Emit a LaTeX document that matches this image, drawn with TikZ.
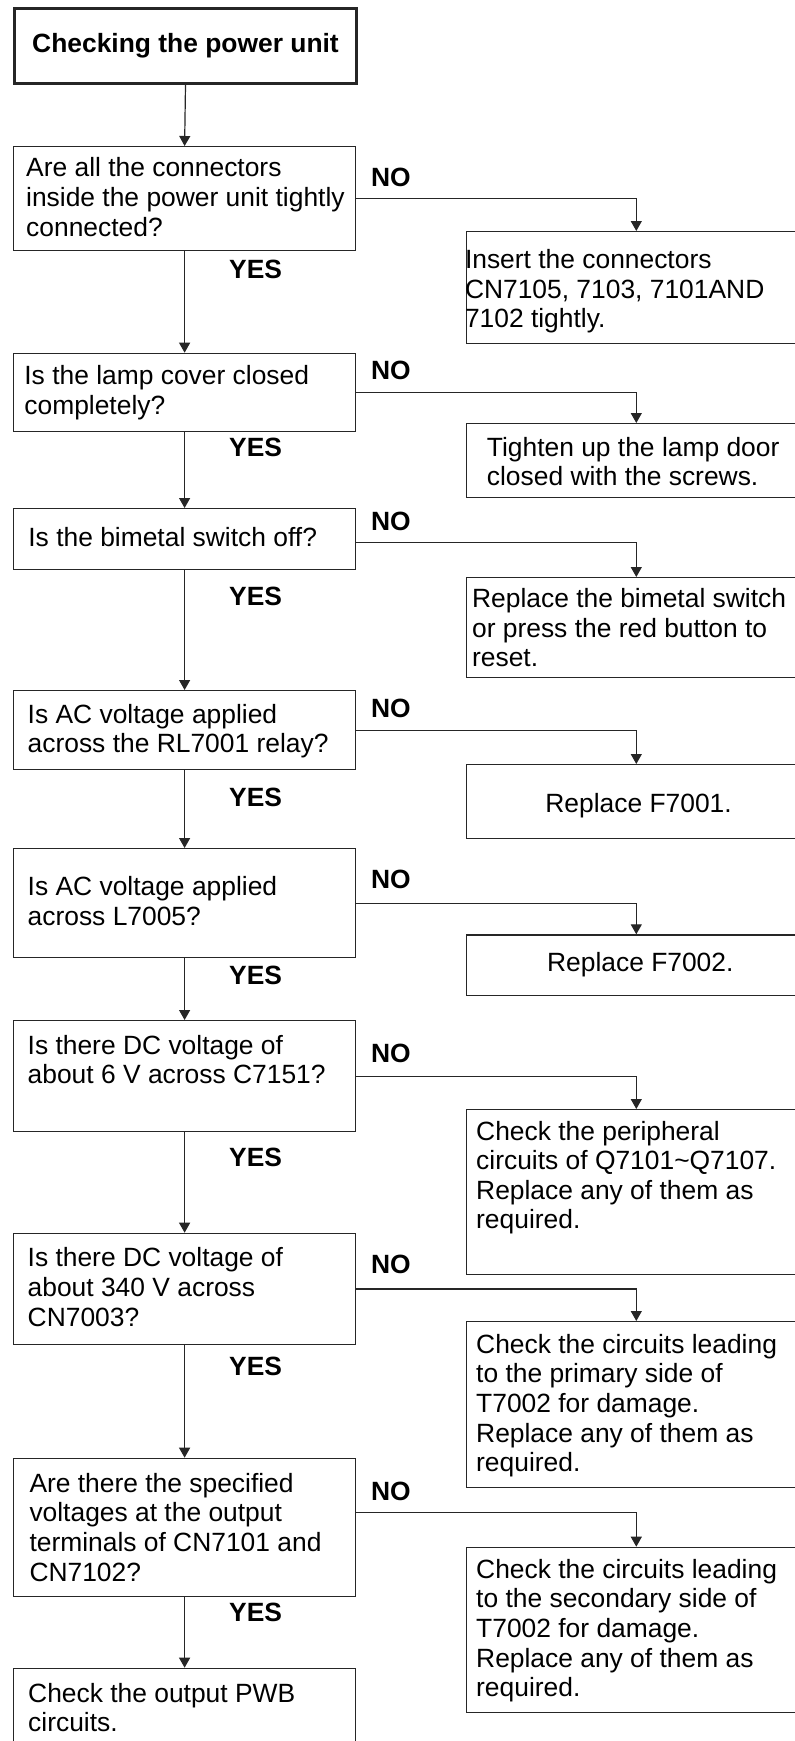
\documentclass[tikz,border=0pt]{standalone}
\usepackage{fontspec}
\setmainfont{Liberation Sans}
\usetikzlibrary{arrows.meta}
\tikzset{
  box/.style={draw=black!85, line width=1.2pt, inner sep=0pt, anchor=north west, minimum width=342pt},
  rbox/.style={box, minimum width=340pt},
  txt/.style={anchor=north west, inner sep=0pt, align=left, font=\fontsize{26.4}{29.6}\selectfont},
  lbl/.style={anchor=west, inner sep=0pt, font=\fontsize{26.4}{29.6}\selectfont\bfseries},
  arr/.style={draw=black!85, line width=1.2pt, -{Triangle[length=10pt,width=11pt]}},
}
\begin{document}
\begin{tikzpicture}[x=1pt,y=-1pt]
\useasboundingbox (0,0) rectangle (795,1741);
\clip (0,0) rectangle (795,1741);
% left column boxes
\node[box, line width=3pt, minimum height=75pt] (title) at (13,7) {};
\node[font=\fontsize{26.4}{29.6}\selectfont\bfseries, inner sep=0pt] (titlet) at (title.center) {Checking the power unit};
\node[box, minimum height=104pt] (q1) at (13,146) {};
\node[box, minimum height=78pt] (q2) at (13,352.7) {};
\node[box, minimum height=61pt] (q3) at (13,508) {};
\node[box, minimum height=79pt] (q4) at (13,690) {};
\node[box, minimum height=109pt] (q5) at (13,848) {};
\node[box, minimum height=111pt] (q6) at (13,1020) {};
\node[box, minimum height=111.3pt] (q7) at (13,1232.7) {};
\node[box, minimum height=138.3pt] (q8) at (13,1457.7) {};
\node[box, minimum height=140pt] (fin) at (13,1667.7) {};
% right column boxes
\node[rbox, minimum height=111.7pt] (r1) at (465.7,231) {};
\node[rbox, minimum height=74pt] (r2) at (465.7,423) {};
\node[rbox, minimum height=100pt] (r3) at (465.7,577) {};
\node[rbox, minimum height=74pt] (r4) at (465.7,764) {};
\node[rbox, minimum height=60.7pt] (r5) at (465.7,934.3) {};
\node[rbox, minimum height=165pt] (r6) at (465.7,1109) {};
\node[rbox, minimum height=166pt] (r7) at (465.7,1321) {};
\node[rbox, minimum height=165pt] (r8) at (465.7,1546.7) {};
% texts
\node[txt] (q1t) at (26,157.5) {Are all the connectors\\inside the power unit tightly\\connected?};
\node[txt] (q2t) at (24.2,365.5) {Is the lamp cover closed\\completely?};
\node[txt] (q3t) at (28.2,527.5) {Is the bimetal switch off?};
\node[txt] (q4t) at (27.5,704) {Is AC voltage applied\\across the RL7001 relay?};
\node[txt] (q5t) at (27.5,876.5) {Is AC voltage applied\\across L7005?};
\node[txt] (q6t) at (27.5,1035) {Is there DC voltage of\\about 6 V across C7151?};
\node[txt] (q7t) at (27.5,1247.5) {Is there DC voltage of\\about 340 V across\\CN7003?};
\node[txt] (q8t) at (29.3,1473) {Are there the specified\\voltages at the output\\terminals of CN7101 and\\CN7102?};
\node[txt] (fint) at (28,1683) {Check the output PWB\\circuits.};
\node[txt] (r1t) at (464.8,249.3) {Insert the connectors\\CN7105, 7103, 7101AND\\7102 tightly.};
\node[txt] (r2t) at (486.7,436.7) {Tighten up the lamp door\\closed with the screws.};
\node[txt] (r3t) at (471.9,588.3) {Replace the bimetal switch\\or press the red button to\\reset.};
\node[txt] (r4t) at (545.2,792.7) {Replace F7001.};
\node[txt] (r5t) at (546.9,951.7) {Replace F7002.};
\node[txt] (r6t) at (476,1120.7) {Check the peripheral\\circuits of Q7101\textasciitilde Q7107.\\Replace any of them as\\required.};
\node[txt] (r7t) at (476,1334) {Check the circuits leading\\to the primary side of\\T7002 for damage.\\Replace any of them as\\required.};
\node[txt] (r8t) at (476,1559) {Check the circuits leading\\to the secondary side of\\T7002 for damage.\\Replace any of them as\\required.};
% YES labels
\node[lbl] (y1) at (229,269) {YES};
\node[lbl] (y2) at (229,447.5) {YES};
\node[lbl] (y3) at (229,596.5) {YES};
\node[lbl] (y4) at (229,797.5) {YES};
\node[lbl] (y5) at (229,975) {YES};
\node[lbl] (y6) at (229,1157.5) {YES};
\node[lbl] (y7) at (229,1366.5) {YES};
\node[lbl] (y8) at (229,1612.5) {YES};
% NO labels
\node[lbl] (n1) at (370.8,177.7) {NO};
\node[lbl] (n2) at (370.8,370) {NO};
\node[lbl] (n3) at (370.8,521.7) {NO};
\node[lbl] (n4) at (370.8,708) {NO};
\node[lbl] (n5) at (370.8,879) {NO};
\node[lbl] (n6) at (370.8,1053) {NO};
\node[lbl] (n7) at (370.8,1264.7) {NO};
\node[lbl] (n8) at (370.8,1491) {NO};
% vertical connectors
\draw[arr] (title.south) -- (q1.north);
\draw[arr] (q1.south) -- (q2.north);
\draw[arr] (q2.south) -- (q3.north);
\draw[arr] (q3.south) -- (q4.north);
\draw[arr] (q4.south) -- (q5.north);
\draw[arr] (q5.south) -- (q6.north);
\draw[arr] (q6.south) -- (q7.north);
\draw[arr] (q7.south) -- (q8.north);
\draw[arr] (q8.south) -- (fin.north);
% NO connectors
\draw[arr] (q1.east) -| (r1.north);
\draw[arr] (q2.east) -| (r2.north);
\draw[arr] ([yshift=-3.5pt]q3.east) -| (r3.north);
\draw[arr] (q4.east) -| (r4.north);
\draw[arr] (q5.east) -| (r5.north);
\draw[arr] (q6.east) -| (r6.north);
\draw[arr] (q7.east) -| (r7.north);
\draw[arr] ([yshift=15.3pt]q8.east) -| (r8.north);
\end{tikzpicture}
\end{document}
